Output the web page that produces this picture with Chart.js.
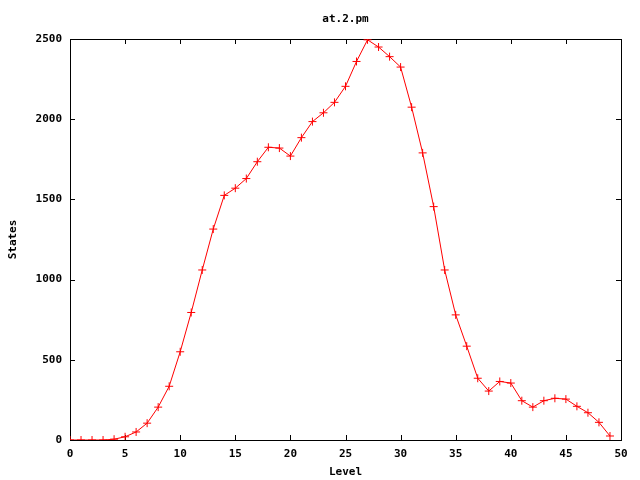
<!DOCTYPE html>
<html>
<head>
<meta charset="utf-8">
<script src="https://cdn.jsdelivr.net/npm/chart.js@4"></script>
<style>
  body { margin: 0; background: #fff; }
  canvas { display: block; }
</style>
</head>
<body>
<canvas id="atChart" width="640" height="480"></canvas>
<script>
// valeurs
const levels = [];
for (let i = 0; i < 50; i++) levels.push(i);
const states = [0, 0, 0, 0, 5, 20, 50, 105, 205, 335,
    550, 795, 1060, 1315, 1525, 1570, 1630, 1735, 1825, 1820,
    1770, 1885, 1985, 2040, 2105, 2205, 2360, 2495, 2450, 2390,
    2325, 2075, 1790, 1455, 1060, 780, 585, 385, 305, 365,
    355, 245, 205, 245, 260, 255, 210, 170, 110, 25];
const xTicks = [0, 5, 10, 15, 20, 25, 30, 35, 40, 45, 50];
const yTicks = [0, 500, 1000, 1500, 2000, 2500];
const chartTitle = 'at.2.pm';

const monoFont = { family: '"DejaVu Sans Mono", monospace', size: 11, weight: 'bold' };

// cadre + graduations vers l'intérieur, façon gnuplot
const borderTicks = {
    id: 'borderTicks',
    beforeDatasetsDraw(chart) {
        const ctx = chart.ctx;
        const a = chart.chartArea;
        const xs = chart.scales.x;
        const ys = chart.scales.y;
        const len = 5;
        ctx.save();
        ctx.strokeStyle = '#000';
        ctx.lineWidth = 1;
        ctx.beginPath();
        xTicks.forEach(v => {
            const px = Math.round(xs.getPixelForValue(v)) + 0.5;
            ctx.moveTo(px, a.bottom);
            ctx.lineTo(px, a.bottom - len);
            ctx.moveTo(px, a.top);
            ctx.lineTo(px, a.top + len);
        });
        yTicks.forEach(v => {
            const py = Math.round(ys.getPixelForValue(v)) + 0.5;
            ctx.moveTo(a.left, py);
            ctx.lineTo(a.left + len, py);
            ctx.moveTo(a.right, py);
            ctx.lineTo(a.right - len, py);
        });
        ctx.stroke();
        ctx.strokeRect(Math.round(a.left) + 0.5, Math.round(a.top) + 0.5,
            Math.round(a.right - a.left), Math.round(a.bottom - a.top));
        ctx.restore();
    }
};

// fond blanc + titre centré sur la zone du graphe (comme gnuplot)
const bgTitle = {
    id: 'bgTitle',
    beforeDraw(chart) {
        const ctx = chart.ctx;
        ctx.save();
        ctx.fillStyle = '#fff';
        ctx.fillRect(0, 0, chart.width, chart.height);
        ctx.restore();
    },
    afterDraw(chart) {
        const ctx = chart.ctx;
        const a = chart.chartArea;
        ctx.save();
        ctx.fillStyle = '#000';
        ctx.font = 'bold 11px "DejaVu Sans Mono", monospace';
        ctx.textAlign = 'center';
        ctx.textBaseline = 'middle';
        ctx.fillText(chartTitle, (a.left + a.right) / 2, a.top - 20);
        ctx.restore();
    }
};

Chart.defaults.color = '#000';

new Chart(document.getElementById('atChart').getContext('2d'), {
    type: 'line',
    data: {
        datasets: [{
            data: levels.map((l, i) => ({ x: l, y: states[i] })),
            borderColor: '#ff0000',
            backgroundColor: '#ff0000',
            borderWidth: 1,
            pointStyle: 'cross',
            pointRadius: 4,
            pointBorderWidth: 1,
            pointBorderColor: '#ff0000',
            tension: 0,
            fill: false,
        }],
    },
    options: {
        responsive: false,
        animation: false,
        events: [],
        layout: { padding: { left: 0, right: 19, top: 39, bottom: 0 } },
        plugins: {
            legend: { display: false },
            tooltip: { enabled: false },
            title: { display: false },
        },
        scales: {
            x: {
                type: 'linear',
                min: 0,
                max: 50,
                grid: { display: false, drawTicks: false },
                border: { display: false },
                afterBuildTicks: s => { s.ticks = xTicks.map(v => ({ value: v })); },
                afterFit: s => { s.height = 40; },
                ticks: { font: monoFont, padding: 8, maxRotation: 0, callback: v => String(v) },
                title: { display: true, text: 'Level', font: monoFont, padding: { top: 0, bottom: 1 } },
            },
            y: {
                min: 0,
                max: 2500,
                grid: { display: false, drawTicks: false },
                border: { display: false },
                afterBuildTicks: s => { s.ticks = yTicks.map(v => ({ value: v })); },
                afterFit: s => { s.width = 70; },
                ticks: { font: monoFont, padding: 8, callback: v => String(v) },
                title: { display: true, text: 'States', font: monoFont, padding: { top: 7, bottom: 4 } },
            },
        },
    },
    plugins: [bgTitle, borderTicks],
});
</script>
</body>
</html>
